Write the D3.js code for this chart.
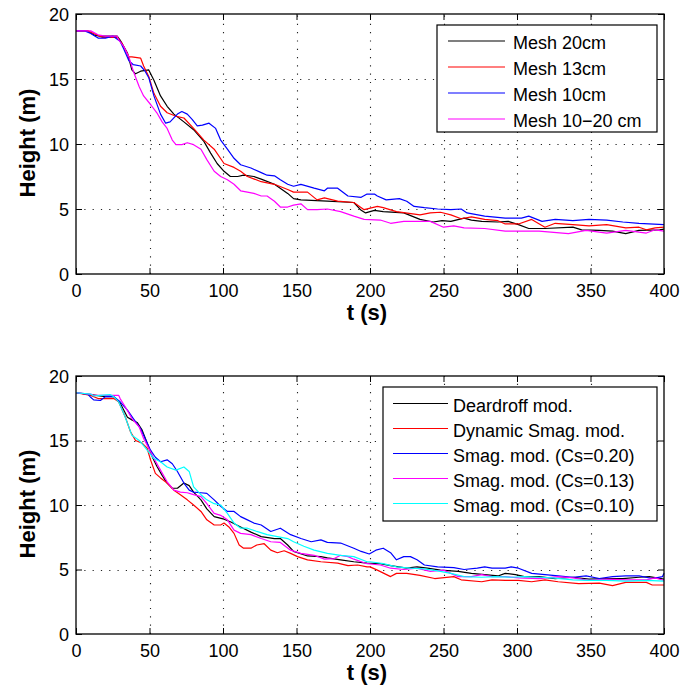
<!DOCTYPE html>
<html>
<head>
<meta charset="utf-8">
<script src="https://cdn.jsdelivr.net/npm/d3@7"></script>
<style>
  html, body { margin: 0; padding: 0; background: #fff; }
  svg { display: block; font-family: "Liberation Sans", Arial, Helvetica, sans-serif; }
</style>
</head>
<body>
<svg id="chart" width="696" height="685"></svg>
<script>
// ---------------- DATA ----------------
const xTicks = [0, 50, 100, 150, 200, 250, 300, 350, 400];
const yTicks = [0, 5, 10, 15, 20];
const xLabel = "t (s)";
const yLabel = "Height (m)";

// Panel 1 : mesh resolution
const topNames = ["Mesh 20cm", "Mesh 13cm", "Mesh 10cm", "Mesh 10\u221220 cm"];
const topColors = ["#000000", "#ff0000", "#0000ff", "#ff00ff"];

const mesh20 = [[0,18.7],[8,18.7],[12,18.4],[16,18.3],[28,18.3],[30,18.0],[35,17.0],[38,15.7],[40.5,15.4],[44,15.6],[49.5,15.7],[53,14.9],[57.5,13.7],[62,12.9],[66.6,12.3],[73.4,11.7],[80,11.1],[87,10.2],[91.6,9.3],[96,8.5],[100.7,7.9],[105,7.5],[110,7.5],[114,7.6],[121,7.5],[126,7.3],[135,6.9],[144,6.2],[148,5.8],[153,5.7],[171,5.6],[189,5.5],[194,4.9],[197,4.7],[203,4.9],[209,4.8],[223,4.7],[234,4.2],[243,4.0],[249,4.1],[255,4.05],[264,4.3],[269,4.15],[276,4.05],[287,4.0],[294,4.05],[301,3.8],[308,3.5],[319,3.5],[338,3.6],[344,3.4],[356,3.35],[365,3.3],[374,3.1],[383,3.35],[397,3.4],[400,3.45]];
const mesh13 = [[0,18.7],[8,18.7],[14,18.4],[18,18.2],[28,18.2],[31,17.8],[36,16.7],[38,16.7],[44,16.6],[46,16.0],[49.5,15.2],[53,13.9],[57.5,12.9],[62,12.4],[69,12.1],[73.4,12.0],[80,11.2],[87,10.3],[94,9.6],[100.7,8.5],[107.5,8.2],[112,7.9],[116.6,7.5],[126,7.1],[135,6.9],[144,6.5],[148,6.3],[157.5,6.3],[164,5.7],[169,5.85],[178,5.6],[189,5.5],[196,4.95],[203,5.15],[205,5.2],[209,5.1],[218,4.8],[234,4.55],[241,4.7],[248,4.75],[255,4.55],[262,4.25],[269,4.4],[278,4.2],[287,4.1],[292,3.85],[301,3.85],[310,4.2],[319,3.6],[326,3.9],[338,3.8],[349,3.7],[361,3.8],[374,3.55],[383,3.6],[388,3.4],[394,3.55],[400,3.6]];
const mesh10 = [[0,18.7],[6,18.7],[10,18.5],[15,18.15],[20,18.15],[25,18.3],[30,17.9],[32.5,17.3],[36,16.4],[39,16.1],[44,16.0],[47,15.6],[49.5,15.1],[53,13.7],[57.5,12.3],[61,11.6],[64,11.7],[69,12.3],[72,12.5],[75.7,12.3],[79,11.9],[82.5,11.4],[86,11.45],[90.5,11.6],[95,11.2],[98.4,10.3],[103,9.6],[107.5,8.9],[112,8.4],[119,8.15],[126,7.8],[130,7.6],[135,7.55],[139,7.25],[144,6.9],[148,6.75],[153,6.9],[162,6.6],[169,6.4],[171,6.6],[178,6.6],[185,6.0],[194,5.9],[198,6.15],[203,6.15],[205,6.0],[211,5.7],[220,5.8],[225,5.6],[230,5.2],[237,5.1],[246,5.0],[255,4.95],[262,5.0],[266,4.7],[278,4.45],[292,4.3],[303,4.3],[308,4.45],[317,4.05],[326,4.2],[338,4.1],[349,4.2],[361,4.15],[372,4.0],[383,3.9],[400,3.8]];
const mesh1020 = [[0,18.7],[10,18.7],[15,18.4],[20,18.3],[28,18.3],[29,18.0],[32.5,17.5],[36,16.7],[39,15.6],[43,14.4],[46,13.7],[51,13.0],[55,12.4],[58.6,11.7],[62,11.2],[65.5,10.3],[68,9.95],[72,9.95],[75.7,10.1],[80,9.95],[85,9.6],[89,8.8],[94,7.9],[98.4,7.5],[103,7.25],[107.5,6.9],[112,6.4],[116.6,6.3],[121,6.2],[126,6.0],[130,6.0],[135,5.6],[139,5.15],[144,5.15],[148,5.3],[153,5.4],[157.5,4.95],[164,4.95],[171,5.0],[180,4.8],[189,4.45],[196,4.2],[207,4.15],[214,3.9],[223,4.05],[241,4.05],[250,3.6],[257,3.7],[264,3.55],[278,3.5],[292,3.3],[315,3.3],[335,3.1],[347,3.35],[361,3.15],[374,3.35],[388,3.15],[394,3.4],[400,3.3]];

// Panel 2 : turbulence models
const botNames = ["Deardroff mod.", "Dynamic Smag. mod.", "Smag. mod. (Cs=0.20)", "Smag. mod. (Cs=0.13)", "Smag. mod. (Cs=0.10)"];
const botColors = ["#000000", "#ff0000", "#0000ff", "#ff00ff", "#00ffff"];

const deardroff = [[0,18.7],[10,18.55],[20,18.4],[25.7,18.4],[30,17.9],[35,16.8],[38,16.6],[41.6,16.4],[45,15.8],[48.4,14.8],[52,13.7],[55,13.0],[58.6,12.3],[62,11.7],[65.5,11.3],[69,11.3],[73.4,11.7],[77,11.5],[80,11.0],[85,10.4],[89,9.7],[94,9.1],[100.7,8.9],[105,8.7],[112,8.3],[119,7.9],[126,7.55],[135,7.4],[139,7.4],[144,6.9],[148,6.4],[157.5,6.05],[166.6,6.0],[171,5.9],[180,5.75],[189,5.6],[198,5.5],[207,5.45],[214,5.3],[225,5.1],[232,5.2],[239,5.1],[248,4.95],[260,4.85],[269,4.7],[278,4.6],[287,4.5],[292,4.7],[299,4.6],[305,4.45],[315,4.45],[326,4.3],[338,4.4],[349,4.25],[361,4.3],[372,4.3],[383,4.4],[390,4.45],[400,4.25]];
const dynSmag = [[0,18.7],[10,18.5],[15,18.25],[25.7,18.25],[29,18.0],[33.6,16.8],[37,15.7],[40.5,15.0],[45,14.8],[48.4,14.4],[50.7,13.5],[54,12.45],[57.5,12.1],[62,11.7],[66.6,11.15],[71,10.8],[75.7,10.4],[80,10.0],[85,9.5],[89,8.85],[94,8.45],[98.4,8.45],[100.7,8.6],[104,8.3],[107.5,7.8],[111,6.9],[114,6.65],[119,6.65],[123,6.9],[128,7.0],[132.5,6.5],[137,6.3],[141.6,6.45],[146,6.25],[150.7,6.0],[157.5,5.75],[166.6,5.6],[178,5.5],[185,5.3],[191.6,5.35],[198,5.2],[200,5.2],[205,4.95],[214,4.45],[218,4.7],[225,4.7],[234,4.55],[244,4.3],[257,4.45],[262,4.2],[276,4.05],[283,4.2],[292,4.15],[301,4.15],[310,4.05],[319,4.2],[328,4.05],[342,3.9],[356,3.95],[365,3.75],[374,4.0],[388,4.0],[392,3.8],[400,3.8]];
const smag20 = [[0,18.7],[8,18.6],[10,18.35],[12,18.15],[16.6,18.1],[20,18.4],[25.7,18.4],[30,18.0],[35,17.35],[39,16.7],[44,15.9],[47,15.15],[50.7,14.25],[54,13.7],[57.5,13.35],[62,13.5],[65.5,13.2],[69,12.6],[73.4,11.7],[77,11.15],[80,11.0],[85,10.95],[89,10.9],[94,10.4],[98.4,9.9],[103,9.5],[107.5,9.5],[112,9.1],[116.6,8.85],[121,8.6],[126,8.45],[132.5,7.95],[139,8.2],[146,7.7],[153,7.4],[160,7.15],[166.6,7.3],[171,7.1],[180,7.05],[189,6.65],[194,6.4],[199.5,6.2],[204,6.5],[209,6.65],[214,6.3],[218,5.75],[223,6.0],[227.5,6.0],[232,5.75],[237,5.35],[246,5.2],[257,5.15],[264,5.0],[273,5.1],[278,5.2],[283,5.1],[292,5.1],[296,5.2],[301,5.1],[310,4.7],[319,4.6],[328,4.5],[338,4.4],[347,4.5],[356,4.3],[365,4.45],[374,4.5],[383,4.5],[392,4.3],[399,4.45],[400,4.7]];
const smag13 = [[0,18.7],[10,18.6],[12,18.5],[29,18.5],[30,18.25],[33.6,17.6],[38,16.7],[43,16.05],[46,15.15],[49.5,14.4],[53,13.6],[57.5,12.7],[62,11.8],[66.6,11.15],[71,11.0],[75.7,10.95],[80,10.8],[85,10.65],[89,10.1],[94,9.35],[98.4,9.2],[103,8.85],[107.5,8.05],[112,7.8],[119,7.7],[126,7.4],[132.5,7.15],[139,7.1],[146,6.5],[153,6.25],[162,6.1],[169,5.8],[175.7,5.85],[180,6.1],[185,6.0],[189,5.8],[198,5.45],[207,5.35],[214,5.1],[223,5.0],[232,5.1],[241,4.85],[250,4.95],[260,4.45],[269,4.45],[276,4.6],[283,4.45],[292,4.45],[301,4.35],[315,4.3],[328,4.45],[338,4.35],[349,4.15],[361,4.25],[374,4.2],[388,4.2],[394,4.35],[400,4.15]];
const smag10 = [[0,18.7],[10,18.6],[12,18.45],[16.6,18.5],[23.4,18.55],[25.7,18.4],[29,18.0],[32.5,17.1],[36,16.05],[38,15.4],[43,15.0],[46,14.6],[49.5,14.1],[53,13.6],[57.5,13.35],[62,12.95],[68,12.7],[73.4,12.95],[77,12.6],[80,11.4],[85,10.8],[89,10.4],[94,10.1],[98.4,10.0],[103,9.35],[107.5,8.6],[112,8.2],[116.6,8.2],[123,7.95],[130,7.7],[137,7.55],[144,7.4],[148,7.15],[155,6.8],[162,6.5],[171,6.25],[180,6.1],[189,6.0],[198,5.6],[200,5.6],[209,5.45],[218,5.2],[227.5,5.1],[237,5.05],[246,4.9],[255,4.7],[264,4.45],[276,4.4],[285,4.45],[296,4.4],[305,4.45],[315,4.4],[324,4.35],[338,4.2],[349,4.15],[361,4.15],[374,4.1],[388,4.15],[400,4.1]];

const topSeries = [mesh20, mesh13, mesh10, mesh1020];
const botSeries = [deardroff, dynSmag, smag20, smag13, smag10];

// ---------------- DRAW ----------------
const svg = d3.select("#chart");
const FONT = 18;

function panel(opt) {
  const x = d3.scaleLinear().domain([0, 400]).range([opt.left, opt.right]);
  const y = d3.scaleLinear().domain([0, 20]).range([opt.bottom, opt.top]);
  const g = svg.append("g");

  // grid
  const grid = g.append("g").attr("stroke", "#222").attr("stroke-width", 1.1)
    .attr("stroke-dasharray", "1.2,7.1");
  grid.selectAll(".gx").data(xTicks.filter(d => d > 0 && d < 400)).join("line")
    .attr("x1", d => Math.round(x(d)) + 0.5).attr("x2", d => Math.round(x(d)) + 0.5)
    .attr("y1", opt.bottom).attr("y2", opt.top);
  grid.selectAll(".gy").data(yTicks.filter(d => d > 0 && d < 20)).join("line")
    .attr("y1", d => Math.round(y(d)) + 0.5).attr("y2", d => Math.round(y(d)) + 0.5)
    .attr("x1", opt.left).attr("x2", opt.right);

  // lines
  const line = d3.line().x(d => x(d[0])).y(d => y(d[1]));
  opt.series.forEach((s, i) => {
    g.append("path").datum(s).attr("d", line).attr("fill", "none")
      .attr("stroke", opt.colors[i]).attr("stroke-width", 1.2)
      .attr("stroke-linejoin", "round");
  });

  // axes with inward ticks
  const tl = 6;
  const axB = d3.axisBottom(x).tickValues(xTicks).tickSizeInner(-tl).tickSizeOuter(0).tickPadding(7);
  const axT = d3.axisTop(x).tickValues(xTicks).tickSizeInner(-tl).tickSizeOuter(0).tickFormat("");
  const axL = d3.axisLeft(y).tickValues(yTicks).tickSizeInner(-tl).tickSizeOuter(0).tickPadding(8);
  const axR = d3.axisRight(y).tickValues(yTicks).tickSizeInner(-tl).tickSizeOuter(0).tickFormat("");

  const gb = g.append("g").attr("transform", `translate(0,${opt.bottom})`).call(axB);
  const gt = g.append("g").attr("transform", `translate(0,${opt.top})`).call(axT);
  const gl = g.append("g").attr("transform", `translate(${opt.left},0)`).call(axL);
  const gr = g.append("g").attr("transform", `translate(${opt.right},0)`).call(axR);
  [gb, gt, gl, gr].forEach(a => {
    a.select(".domain").remove();
    a.selectAll("line").attr("stroke", "#000").attr("stroke-width", 1);
    a.selectAll("text").attr("font-size", FONT).attr("fill", "#000")
      .attr("font-family", '"Liberation Sans", Arial, Helvetica, sans-serif');
  });
  gb.selectAll("text").attr("dy", null).attr("y", 22.5);
  gl.selectAll("text").attr("x", -7).attr("dy", "0.35em");

  // frame
  g.append("rect").attr("x", opt.left).attr("y", opt.top)
    .attr("width", opt.right - opt.left).attr("height", opt.bottom - opt.top)
    .attr("fill", "none").attr("stroke", "#000").attr("stroke-width", 1.3);

  // axis labels
  g.append("text").attr("x", (opt.left + opt.right) / 2 - 3).attr("y", opt.bottom + 46)
    .attr("text-anchor", "middle").attr("font-size", 22).attr("font-weight", "bold")
    .text(xLabel);
  g.append("text")
    .attr("transform", `translate(35,${(opt.top + opt.bottom) / 2 - 1}) rotate(-90)`)
    .attr("text-anchor", "middle").attr("font-size", 22).attr("font-weight", "bold")
    .text(yLabel);

  // legend
  const L = opt.legend;
  const lg = g.append("g");
  lg.append("rect").attr("x", L.x0).attr("y", L.y0).attr("width", L.x1 - L.x0)
    .attr("height", L.y1 - L.y0).attr("fill", "#fff").attr("stroke", "#000").attr("stroke-width", 1.2);
  opt.names.forEach((n, i) => {
    const by = L.base + i * L.step;
    lg.append("line").attr("x1", L.lx0).attr("x2", L.lx1)
      .attr("y1", by - L.lineOff).attr("y2", by - L.lineOff)
      .attr("stroke", opt.colors[i]).attr("stroke-width", 1.2);
    lg.append("text").attr("x", L.tx).attr("y", by).attr("font-size", FONT)
      .attr("fill", "#000").text(n);
  });
}

panel({
  left: 76, right: 664, top: 14, bottom: 274,
  series: topSeries, colors: topColors, names: topNames,
  legend: { x0: 437, x1: 657, y0: 25, y1: 132, lx0: 448, lx1: 505, tx: 513, base: 48.5, step: 26, lineOff: 7.5 }
});
panel({
  left: 76, right: 664, top: 376, bottom: 634,
  series: botSeries, colors: botColors, names: botNames,
  legend: { x0: 383, x1: 657, y0: 387, y1: 521, lx0: 393, lx1: 448, tx: 453, base: 411.5, step: 25, lineOff: 8 }
});
</script>
</body>
</html>
